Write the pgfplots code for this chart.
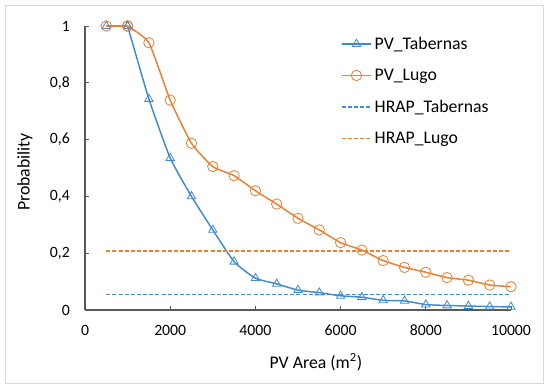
\documentclass[border=0pt]{standalone}
\usepackage{pgfplots}
\pgfplotsset{compat=1.18}
\usepackage{fontspec}
\setmainfont{Carlito}
\definecolor{cblue}{RGB}{64,138,208}
\definecolor{corange}{RGB}{234,128,50}
\definecolor{cframe}{RGB}{217,217,217}
\definecolor{caxis}{RGB}{89,89,89}
\begin{document}
\begin{tikzpicture}
\path[fill=white] (0,0) rectangle (412.5pt,292.5pt);
\draw[cframe, line width=0.75pt] (3.75pt,5.25pt) rectangle (407.25pt,288pt);
\begin{axis}[
  at={(63.75pt,60pt)}, anchor=origin,
  scale only axis, width=319.5pt, height=213pt,
  xmin=0, xmax=10000, ymin=0, ymax=1,
  axis x line=bottom, axis y line=left,
  axis line style={caxis, line width=0.8pt, -},
  xtick={0,2000,...,10000}, ytick={0,0.2,...,1},
  tick align=inside, major tick length=3pt,
  tick style={caxis, line width=0.6pt},
  /pgf/number format/assume math mode=true,
  /pgf/number format/use comma,
  /pgf/number format/1000 sep={},
  yticklabel style={inner sep=0pt, anchor=east, xshift=-11.25pt},
  xticklabel style={inner sep=0pt, anchor=north, yshift=-11pt},
  ticklabel style={font=\fontsize{11.8}{14}\selectfont, text=black},
  scaled ticks=false,
  xlabel={PV Area (m\textsuperscript{2})},
  ylabel={Probability},
  label style={font=\fontsize{13.3}{16}\selectfont},
  xlabel style={at={(axis description cs:0.542,0)}, anchor=center, yshift=-39.5pt},
  ylabel style={at={(axis description cs:-0.141,0.486)}, anchor=center},
  legend style={at={(axis description cs:0.6,0.972)}, anchor=north west, draw=none, fill=none,
    font=\fontsize{13.3}{16}\selectfont, row sep=9.2pt, inner sep=0pt, cells={anchor=west}},
  legend image code/.code={\draw[#1, mark repeat=2, mark phase=2] plot coordinates {(0cm,0cm) (0.39cm,0cm) (0.78cm,0cm)};},
  clip=false,
]
\addplot[cblue, line width=1.1pt, smooth, tension=0.3, mark=triangle, mark size=3.6pt, mark options={solid, line width=0.6pt}] coordinates {
(1000,1.0) (1500,0.743) (2000,0.535) (2500,0.400) (3000,0.282) (3500,0.170)
(4000,0.112) (4500,0.092) (5000,0.070) (5500,0.061) (6000,0.050) (6500,0.045) (7000,0.034)
(7500,0.032) (8000,0.019) (8500,0.016) (9000,0.014) (9500,0.012) (10000,0.011)};
\addlegendentry{PV\_Tabernas}
\addplot[corange, line width=1.1pt, smooth, tension=0.3, mark=o, mark size=3.9pt, mark options={solid, line width=0.6pt}] coordinates {
(1000,1.0) (1500,0.941) (2000,0.739) (2500,0.587) (3000,0.505) (3500,0.473)
(4000,0.420) (4500,0.373) (5000,0.323) (5500,0.282) (6000,0.237) (6500,0.211) (7000,0.174)
(7500,0.150) (8000,0.133) (8500,0.114) (9000,0.105) (9500,0.088) (10000,0.082)};
\addlegendentry{PV\_Lugo}
\addplot[cblue, line width=1.2pt, dash pattern=on 3pt off 1.6pt] coordinates {(500,0.054) (10000,0.054)};
\addlegendentry{HRAP\_Tabernas}
\addplot[corange, line width=1.1pt, dash pattern=on 3pt off 1.6pt] coordinates {(500,0.207) (10000,0.207)};
\addlegendentry{HRAP\_Lugo}
\addplot[forget plot, cblue, line width=1.1pt, mark=triangle, mark size=3.6pt, mark options={solid, line width=0.6pt}] coordinates {(500,1.0) (1000,1.0)};
\addplot[forget plot, corange, line width=1.1pt, mark=o, mark size=3.9pt, mark options={solid, line width=0.6pt}] coordinates {(500,1.0) (1000,1.0)};
\end{axis}
\end{tikzpicture}
\end{document}
